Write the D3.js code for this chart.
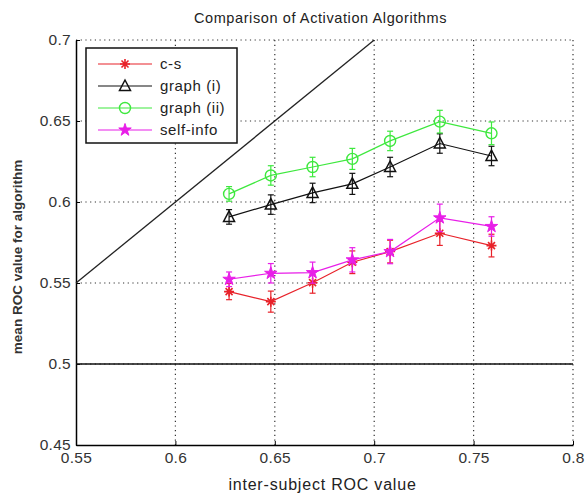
<!DOCTYPE html>
<html>
<head>
<meta charset="utf-8">
<script src="https://cdn.jsdelivr.net/npm/d3@7"></script>
<style>
  body { margin: 0; background: #fff; }
  svg { font-family: "Liberation Sans", Arial, sans-serif; }
  .axis text { font-size: 15.5px; fill: #333; letter-spacing: 0.3px; }
  .axis path, .axis line { stroke: #000; }
</style>
</head>
<body>
<svg width="585" height="494"></svg>
<script>
// values
const xValues = [0.627, 0.648, 0.669, 0.689, 0.708, 0.733, 0.759];
const csMean = [0.5447, 0.5385, 0.5502, 0.5628, 0.5694, 0.5807, 0.5731];
const csErr = [0.005, 0.0065, 0.0065, 0.007, 0.007, 0.0075, 0.007];
const graph1Mean = [0.5908, 0.5984, 0.6056, 0.6112, 0.6216, 0.6361, 0.6284];
const graph1Err = [0.0045, 0.006, 0.006, 0.0065, 0.006, 0.006, 0.006];
const graph2Mean = [0.605, 0.6164, 0.6216, 0.6266, 0.6377, 0.6496, 0.6424];
const graph2Err = [0.0045, 0.006, 0.006, 0.0065, 0.006, 0.007, 0.007];
const selfMean = [0.5523, 0.556, 0.5564, 0.5643, 0.5694, 0.5902, 0.5849];
const selfErr = [0.0045, 0.006, 0.0065, 0.0075, 0.0075, 0.0085, 0.006];
const seriesNames = ['c-s', 'graph (i)', 'graph (ii)', 'self-info'];
const xTicks = [0.55, 0.6, 0.65, 0.7, 0.75, 0.8];
const yTicks = [0.45, 0.5, 0.55, 0.6, 0.65, 0.7];

const margin = { top: 40, right: 12, bottom: 49, left: 76 };
const svg = d3.select('svg');
const width = 585 - margin.left - margin.right;
const height = 494 - margin.top - margin.bottom;

const x = d3.scaleLinear().domain([0.55, 0.8]).range([0, width]);
const y = d3.scaleLinear().domain([0.45, 0.7]).range([height, 0]);

const g = svg.append('g').attr('transform', `translate(${margin.left},${margin.top})`);

// dotted grid
g.append('g').selectAll('line').data(xTicks.slice(1)).enter().append('line')
    .attr('x1', (d) => x(d)).attr('x2', (d) => x(d))
    .attr('y1', 0).attr('y2', height)
    .attr('stroke', '#333').attr('stroke-width', 1.2).attr('stroke-dasharray', '1.2,3.5');
g.append('g').selectAll('line').data(yTicks.slice(1)).enter().append('line')
    .attr('y1', (d) => y(d)).attr('y2', (d) => y(d))
    .attr('x1', 0).attr('x2', width)
    .attr('stroke', '#333').attr('stroke-width', 1.2).attr('stroke-dasharray', '1.2,3.5');

// axes
const axisX = d3.axisBottom(x).tickValues(xTicks).tickFormat(d3.format('')).tickSizeInner(-4).tickSizeOuter(0).tickPadding(7);
g.append('g').attr('class', 'axis').attr('transform', `translate(0,${height})`).call(axisX)
    .call((s) => s.select('.domain').attr('stroke-width', 1.5));

const axisY = d3.axisLeft(y).tickValues(yTicks).tickFormat(d3.format('')).tickSizeInner(-4).tickSizeOuter(0).tickPadding(5);
g.append('g').attr('class', 'axis').call(axisY)
    .call((s) => s.select('.domain').attr('stroke-width', 1.5));

// reference lines: y = x and y = 0.5
g.append('line')
    .attr('x1', x(0.55)).attr('y1', y(0.55)).attr('x2', x(0.7)).attr('y2', y(0.7))
    .attr('stroke', '#222').attr('stroke-width', 1.3);
g.append('line')
    .attr('x1', x(0.55)).attr('y1', y(0.5)).attr('x2', x(0.8)).attr('y2', y(0.5))
    .attr('stroke', '#111').attr('stroke-width', 1.5);

const series = [
    { name: seriesNames[0], mean: csMean, err: csErr, color: '#e8222a', marker: 'asterisk' },
    { name: seriesNames[1], mean: graph1Mean, err: graph1Err, color: '#111', marker: 'triangle' },
    { name: seriesNames[2], mean: graph2Mean, err: graph2Err, color: '#3ee83e', marker: 'circle' },
    { name: seriesNames[3], mean: selfMean, err: selfErr, color: '#e81ee8', marker: 'star' }
];

const drawMarker = (sel, type, color) => {
    if (type === 'asterisk') {
        sel.append('path').attr('d', 'M-5,0H5M0,-5V5M-3.5,-3.5L3.5,3.5M-3.5,3.5L3.5,-3.5')
            .attr('stroke', color).attr('stroke-width', 1.6).attr('fill', 'none');
    } else if (type === 'triangle') {
        sel.append('path').attr('d', 'M0,-6L5.5,4.5H-5.5Z')
            .attr('stroke', color).attr('stroke-width', 1.5).attr('fill', 'none');
    } else if (type === 'circle') {
        sel.append('circle').attr('r', 5.5)
            .attr('stroke', color).attr('stroke-width', 1.4).attr('fill', 'none');
    } else {
        sel.append('path').attr('d', d3.symbol().type(d3.symbolStar).size(48)())
            .attr('stroke', color).attr('stroke-width', 1).attr('fill', color);
    }
};

const lineGen = d3.line().x((d) => x(d[0])).y((d) => y(d[1]));

series.forEach((s) => {
    const pts = xValues.map((v, i) => [v, s.mean[i], s.err[i]]);
    const sg = g.append('g');
    sg.append('path').datum(pts).attr('d', lineGen)
        .attr('fill', 'none').attr('stroke', s.color).attr('stroke-width', 1.2);
    // error bars
    const eb = sg.selectAll('.eb').data(pts).enter().append('g').attr('class', 'eb');
    eb.append('line')
        .attr('x1', (d) => x(d[0])).attr('x2', (d) => x(d[0]))
        .attr('y1', (d) => y(d[1] - d[2])).attr('y2', (d) => y(d[1] + d[2]))
        .attr('stroke', s.color).attr('stroke-width', 1.2);
    eb.append('line')
        .attr('x1', (d) => x(d[0]) - 3).attr('x2', (d) => x(d[0]) + 3)
        .attr('y1', (d) => y(d[1] - d[2])).attr('y2', (d) => y(d[1] - d[2]))
        .attr('stroke', s.color).attr('stroke-width', 1.2);
    eb.append('line')
        .attr('x1', (d) => x(d[0]) - 3).attr('x2', (d) => x(d[0]) + 3)
        .attr('y1', (d) => y(d[1] + d[2])).attr('y2', (d) => y(d[1] + d[2]))
        .attr('stroke', s.color).attr('stroke-width', 1.2);
    const mk = sg.selectAll('.mk').data(pts).enter().append('g').attr('class', 'mk')
        .attr('transform', (d) => `translate(${x(d[0])},${y(d[1])})`);
    drawMarker(mk, s.marker, s.color);
});

// legend
const lg = svg.append('g').attr('transform', 'translate(86,48)');
lg.append('rect').attr('width', 151).attr('height', 95)
    .attr('fill', '#fff').attr('stroke', '#111').attr('stroke-width', 1.5);
series.forEach((s, i) => {
    const row = lg.append('g').attr('transform', `translate(0,${16 + i * 22})`);
    row.append('line').attr('x1', 12).attr('x2', 66).attr('stroke', s.color).attr('stroke-width', 1.2);
    const m = row.append('g').attr('transform', 'translate(39,0)');
    drawMarker(m, s.marker, s.color);
    row.append('text').attr('x', 74).attr('dy', '0.35em')
        .style('font-size', '15px').style('letter-spacing', '0.6px').attr('fill', '#222').text(s.name);
});

// titles
svg.append('text').attr('x', margin.left + width / 2 - 4).attr('y', 23)
    .attr('text-anchor', 'middle').style('font-size', '14.5px').style('letter-spacing', '0.6px')
    .attr('fill', '#222').text('Comparison of Activation Algorithms');
svg.append('text').attr('x', margin.left + width / 2 - 2).attr('y', 490)
    .attr('text-anchor', 'middle').style('font-size', '16px').style('letter-spacing', '0.8px')
    .attr('fill', '#222').text('inter-subject ROC value');
svg.append('text').attr('transform', 'translate(22,257) rotate(-90)')
    .attr('text-anchor', 'middle').style('font-size', '13.5px').style('font-weight', 'bold')
    .attr('fill', '#333').text('mean ROC value for algorithm');
</script>
</body>
</html>
